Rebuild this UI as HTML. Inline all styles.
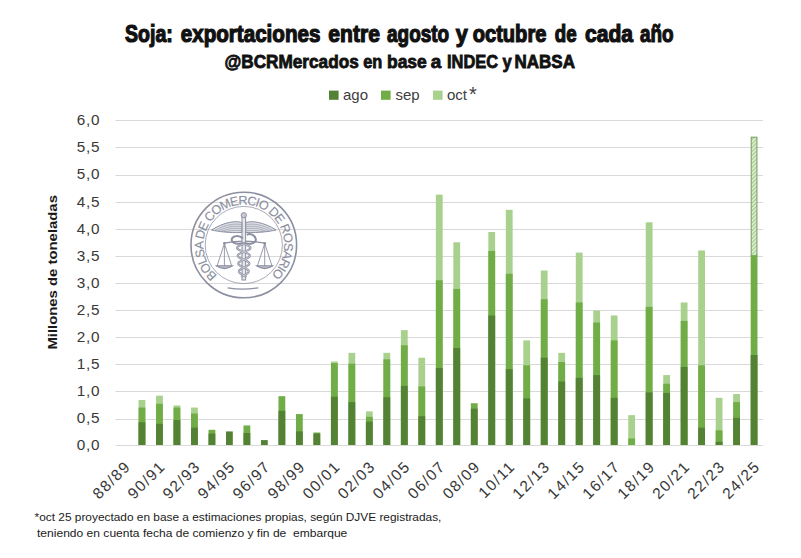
<!DOCTYPE html>
<html><head><meta charset="utf-8"><style>
html,body{margin:0;padding:0;background:#fff;}
body{width:801px;height:558px;overflow:hidden;position:relative;}
svg{position:absolute;left:0;top:0;}
text{font-family:"Liberation Sans",sans-serif;}
.yl{font-size:15.3px;letter-spacing:0.8px;fill:#383838;}
.xl{font-size:15.5px;letter-spacing:1.4px;fill:#383838;}
.leg{font-size:15px;fill:#404040;}
.ttl{font-size:23px;font-weight:bold;fill:#111;stroke:#111;stroke-width:1.2px;}
.sub{font-size:17.6px;font-weight:bold;fill:#111;stroke:#111;stroke-width:0.8px;}
.yt{font-size:13.3px;font-weight:bold;fill:#1a1a1a;}
.fn{font-size:10.6px;fill:#1a1a1a;}
</style></head><body>
<svg width="801" height="558" viewBox="0 0 801 558">
<defs>
<pattern id="hatch" patternUnits="userSpaceOnUse" width="2.8" height="2.8" patternTransform="rotate(45)">
<rect width="2.8" height="2.8" fill="#d8f0ca"/>
<rect width="1.0" height="2.8" fill="#a3c68e"/>
</pattern>
</defs>
<text class="ttl" x="125.10" y="41.9" textLength="47.70" lengthAdjust="spacingAndGlyphs">Soja:</text><text class="ttl" x="180.80" y="41.9" textLength="139.60" lengthAdjust="spacingAndGlyphs">exportaciones</text><text class="ttl" x="328.35" y="41.9" textLength="51.55" lengthAdjust="spacingAndGlyphs">entre</text><text class="ttl" x="387.10" y="41.9" textLength="62.05" lengthAdjust="spacingAndGlyphs">agosto</text><text class="ttl" x="455.85" y="41.9" textLength="12.05" lengthAdjust="spacingAndGlyphs">y</text><text class="ttl" x="472.70" y="41.9" textLength="73.70" lengthAdjust="spacingAndGlyphs">octubre</text><text class="ttl" x="554.80" y="41.9" textLength="21.80" lengthAdjust="spacingAndGlyphs">de</text><text class="ttl" x="585.00" y="41.9" textLength="48.00" lengthAdjust="spacingAndGlyphs">cada</text><text class="ttl" x="640.00" y="41.9" textLength="33.60" lengthAdjust="spacingAndGlyphs">año</text>
<text class="sub" x="224.50" y="68.4" textLength="134.20" lengthAdjust="spacingAndGlyphs">@BCRMercados</text><text class="sub" x="363.30" y="68.4" textLength="19.00" lengthAdjust="spacingAndGlyphs">en</text><text class="sub" x="387.00" y="68.4" textLength="39.70" lengthAdjust="spacingAndGlyphs">base</text><text class="sub" x="430.70" y="68.4" textLength="10.50" lengthAdjust="spacingAndGlyphs">a</text><text class="sub" x="447.00" y="68.4" textLength="51.00" lengthAdjust="spacingAndGlyphs">INDEC</text><text class="sub" x="502.50" y="68.4" textLength="9.20" lengthAdjust="spacingAndGlyphs">y</text><text class="sub" x="514.50" y="68.4" textLength="60.50" lengthAdjust="spacingAndGlyphs">NABSA</text>
<rect x="329" y="90.6" width="9.6" height="9.2" fill="#548235"/>
<text class="leg" x="343" y="100">ago</text>
<rect x="381" y="90.6" width="9.6" height="9.2" fill="#70ad47"/>
<text class="leg" x="395.5" y="100">sep</text>
<rect x="433" y="90.6" width="9.6" height="9.2" fill="#a9d18e"/>
<text class="leg" x="447" y="100">oct<tspan dx="2" font-size="20" dy="0.8">*</tspan></text>
<rect x="115.5" y="445" width="647.5" height="1" fill="#d9d9d9"/><rect x="115.5" y="419" width="647.5" height="1" fill="#d9d9d9"/><rect x="115.5" y="391" width="647.5" height="1" fill="#d9d9d9"/><rect x="115.5" y="364" width="647.5" height="1" fill="#d9d9d9"/><rect x="115.5" y="337" width="647.5" height="1" fill="#d9d9d9"/><rect x="115.5" y="310" width="647.5" height="1" fill="#d9d9d9"/><rect x="115.5" y="283" width="647.5" height="1" fill="#d9d9d9"/><rect x="115.5" y="256" width="647.5" height="1" fill="#d9d9d9"/><rect x="115.5" y="229" width="647.5" height="1" fill="#d9d9d9"/><rect x="115.5" y="202" width="647.5" height="1" fill="#d9d9d9"/><rect x="115.5" y="175" width="647.5" height="1" fill="#d9d9d9"/><rect x="115.5" y="147" width="647.5" height="1" fill="#d9d9d9"/><rect x="115.5" y="120" width="647.5" height="1" fill="#d9d9d9"/><text x="100.3" y="450.3" class="yl" text-anchor="end">0,0</text><text x="100.3" y="423.2" class="yl" text-anchor="end">0,5</text><text x="100.3" y="396.1" class="yl" text-anchor="end">1,0</text><text x="100.3" y="369.0" class="yl" text-anchor="end">1,5</text><text x="100.3" y="341.9" class="yl" text-anchor="end">2,0</text><text x="100.3" y="314.9" class="yl" text-anchor="end">2,5</text><text x="100.3" y="287.8" class="yl" text-anchor="end">3,0</text><text x="100.3" y="260.7" class="yl" text-anchor="end">3,5</text><text x="100.3" y="233.6" class="yl" text-anchor="end">4,0</text><text x="100.3" y="206.5" class="yl" text-anchor="end">4,5</text><text x="100.3" y="179.4" class="yl" text-anchor="end">5,0</text><text x="100.3" y="152.3" class="yl" text-anchor="end">5,5</text><text x="100.3" y="125.2" class="yl" text-anchor="end">6,0</text>
<g>
<circle cx="243.8" cy="245.0" r="52.8" fill="none" stroke="#8c8fa0" stroke-width="1.6"/>
<circle cx="243.8" cy="245.0" r="38.6" fill="none" stroke="#8c8fa0" stroke-width="1.0" opacity="0.75"/>
<path id="arcT" d="M217.30,275.49 A40.4,40.4 0 1 1 271.35,274.55" fill="none"/>
<text font-family="Liberation Sans" font-size="12.6" fill="#8c8fa0" stroke="#8c8fa0" stroke-width="0.15"><textPath href="#arcT" textLength="194.6" lengthAdjust="spacing">BOLSA DE COMERCIO DE ROSARIO</textPath></text>
<path d="M227.6,287.8 Q243,290.5 258.4,287.8" fill="none" stroke="#8c8fa0" stroke-width="1.3"/>
<path d="M224.4,243.2 Q244,239 264.7,243.2" stroke="#8c8fa0" stroke-width="1.3" fill="none"/>
<path d="M224.4,243.5 L216.9,266.5 M224.4,243.5 L231.9,266.5 M224.4,243.5 L224.4,266" stroke="#8c8fa0" stroke-width="0.9" fill="none"/>
<path d="M216.4,265.8 Q224.4,271.5 232.4,265.8 Z" fill="#b9bcc8" stroke="#8c8fa0" stroke-width="1.1"/>
<circle cx="224.4" cy="243.3" r="1.4" fill="#8c8fa0"/>
<path d="M264.7,243.5 L257.2,266.5 M264.7,243.5 L272.2,266.5 M264.7,243.5 L264.7,266" stroke="#8c8fa0" stroke-width="0.9" fill="none"/>
<path d="M256.7,265.8 Q264.7,271.5 272.7,265.8 Z" fill="#b9bcc8" stroke="#8c8fa0" stroke-width="1.1"/>
<circle cx="264.7" cy="243.3" r="1.4" fill="#8c8fa0"/>
<rect x="242.0" y="216" width="3.6" height="64" fill="#e6e7ec" stroke="#8c8fa0" stroke-width="1"/>
<circle cx="243.8" cy="215.2" r="2.6" fill="#c9cbd4" stroke="#8c8fa0" stroke-width="1"/>
<path d="M241.8,222.5 C236,220.5 224,222 211.5,230 C219,231.5 228,233 241.8,232.5 Z" fill="#dcdee5" stroke="#8c8fa0" stroke-width="1"/>
<path d="M241.3,224.5 C234,223.3 224.0,225.0 215,230.5" fill="none" stroke="#8c8fa0" stroke-width="0.6"/>
<path d="M241.3,226.6 C234,225.4 225.5,227.1 218,230.9" fill="none" stroke="#8c8fa0" stroke-width="0.6"/>
<path d="M241.3,228.7 C234,227.5 227.0,229.2 221,231.3" fill="none" stroke="#8c8fa0" stroke-width="0.6"/>
<path d="M241.3,230.8 C234,229.60000000000002 228.5,231.3 224,231.7" fill="none" stroke="#8c8fa0" stroke-width="0.6"/>
<path d="M241.8,222.5 C236,220.5 224,222 211.5,230 C219,231.5 228,233 241.8,232.5 Z" fill="#dcdee5" stroke="#8c8fa0" stroke-width="1" transform="translate(487.6,0) scale(-1,1)"/>
<path d="M241.3,224.5 C234,223.3 224.0,225.0 215,230.5" fill="none" stroke="#8c8fa0" stroke-width="0.6" transform="translate(487.6,0) scale(-1,1)"/>
<path d="M241.3,226.6 C234,225.4 225.5,227.1 218,230.9" fill="none" stroke="#8c8fa0" stroke-width="0.6" transform="translate(487.6,0) scale(-1,1)"/>
<path d="M241.3,228.7 C234,227.5 227.0,229.2 221,231.3" fill="none" stroke="#8c8fa0" stroke-width="0.6" transform="translate(487.6,0) scale(-1,1)"/>
<path d="M241.3,230.8 C234,229.60000000000002 228.5,231.3 224,231.7" fill="none" stroke="#8c8fa0" stroke-width="0.6" transform="translate(487.6,0) scale(-1,1)"/>
<path d="M243.8,243 C237.8,245 230.8,243 231.8,239 C232.8,235.5 239.8,235 242.8,238.5" fill="none" stroke="#8c8fa0" stroke-width="2"/>
<path d="M243.8,243 C249.8,245 256.8,243 255.8,239 C254.8,234.5 249.8,233 246.8,235" fill="none" stroke="#8c8fa0" stroke-width="2"/>
<path d="M243.80,244.00 L245.32,244.55 L246.75,245.10 L248.02,245.65 L249.07,246.20 L249.86,246.75 L250.34,247.30 L250.51,247.85 L250.36,248.40 L249.89,248.95 L249.13,249.50 L248.13,250.05 L246.94,250.60 L245.60,251.15 L244.20,251.70 L242.80,252.25 L241.46,252.80 L240.26,253.35 L239.23,253.90 L238.44,254.45 L237.92,255.00 L237.68,255.55 L237.75,256.10 L238.10,256.65 L238.72,257.20 L239.57,257.75 L240.62,258.30 L241.80,258.85 L243.07,259.40 L244.35,259.95 L245.58,260.50 L246.72,261.05 L247.70,261.60 L248.48,262.15 L249.02,262.70 L249.30,263.25 L249.32,263.80 L249.07,264.35 L248.57,264.90 L247.86,265.45 L246.95,266.00 L245.92,266.55 L244.79,267.10 L243.64,267.65 L242.51,268.20 L241.46,268.75 L240.54,269.30 L239.79,269.85 L239.24,270.40 L238.92,270.95 L238.84,271.50 L239.00,272.05 L239.39,272.60 L239.98,273.15 L240.74,273.70 L241.64,274.25 L242.63,274.80 L243.65,275.35 L244.67,275.90 L245.62,276.45 L246.47,277.00" fill="none" stroke="#8c8fa0" stroke-width="2.1"/>
<path d="M243.80,244.00 L242.28,244.55 L240.85,245.10 L239.58,245.65 L238.53,246.20 L237.74,246.75 L237.26,247.30 L237.09,247.85 L237.24,248.40 L237.71,248.95 L238.47,249.50 L239.47,250.05 L240.66,250.60 L242.00,251.15 L243.40,251.70 L244.80,252.25 L246.14,252.80 L247.34,253.35 L248.37,253.90 L249.16,254.45 L249.68,255.00 L249.92,255.55 L249.85,256.10 L249.50,256.65 L248.88,257.20 L248.03,257.75 L246.98,258.30 L245.80,258.85 L244.53,259.40 L243.25,259.95 L242.02,260.50 L240.88,261.05 L239.90,261.60 L239.12,262.15 L238.58,262.70 L238.30,263.25 L238.28,263.80 L238.53,264.35 L239.03,264.90 L239.74,265.45 L240.65,266.00 L241.68,266.55 L242.81,267.10 L243.96,267.65 L245.09,268.20 L246.14,268.75 L247.06,269.30 L247.81,269.85 L248.36,270.40 L248.68,270.95 L248.76,271.50 L248.60,272.05 L248.21,272.60 L247.62,273.15 L246.86,273.70 L245.96,274.25 L244.97,274.80 L243.95,275.35 L242.93,275.90 L241.98,276.45 L241.13,277.00" fill="none" stroke="#8c8fa0" stroke-width="2.1"/>
<path d="M243.80,244.00 L245.32,244.55 L246.75,245.10 L248.02,245.65 L249.07,246.20 L249.86,246.75 L250.34,247.30 L250.51,247.85 L250.36,248.40 L249.89,248.95 L249.13,249.50 L248.13,250.05 L246.94,250.60 L245.60,251.15 L244.20,251.70 L242.80,252.25 L241.46,252.80 L240.26,253.35 L239.23,253.90 L238.44,254.45 L237.92,255.00 L237.68,255.55 L237.75,256.10 L238.10,256.65 L238.72,257.20 L239.57,257.75 L240.62,258.30 L241.80,258.85 L243.07,259.40 L244.35,259.95 L245.58,260.50 L246.72,261.05 L247.70,261.60 L248.48,262.15 L249.02,262.70 L249.30,263.25 L249.32,263.80 L249.07,264.35 L248.57,264.90 L247.86,265.45 L246.95,266.00 L245.92,266.55 L244.79,267.10 L243.64,267.65 L242.51,268.20 L241.46,268.75 L240.54,269.30 L239.79,269.85 L239.24,270.40 L238.92,270.95 L238.84,271.50 L239.00,272.05 L239.39,272.60 L239.98,273.15 L240.74,273.70 L241.64,274.25 L242.63,274.80 L243.65,275.35 L244.67,275.90 L245.62,276.45 L246.47,277.00" fill="none" stroke="#d5d7de" stroke-width="0.8"/>
<path d="M243.80,244.00 L242.28,244.55 L240.85,245.10 L239.58,245.65 L238.53,246.20 L237.74,246.75 L237.26,247.30 L237.09,247.85 L237.24,248.40 L237.71,248.95 L238.47,249.50 L239.47,250.05 L240.66,250.60 L242.00,251.15 L243.40,251.70 L244.80,252.25 L246.14,252.80 L247.34,253.35 L248.37,253.90 L249.16,254.45 L249.68,255.00 L249.92,255.55 L249.85,256.10 L249.50,256.65 L248.88,257.20 L248.03,257.75 L246.98,258.30 L245.80,258.85 L244.53,259.40 L243.25,259.95 L242.02,260.50 L240.88,261.05 L239.90,261.60 L239.12,262.15 L238.58,262.70 L238.30,263.25 L238.28,263.80 L238.53,264.35 L239.03,264.90 L239.74,265.45 L240.65,266.00 L241.68,266.55 L242.81,267.10 L243.96,267.65 L245.09,268.20 L246.14,268.75 L247.06,269.30 L247.81,269.85 L248.36,270.40 L248.68,270.95 L248.76,271.50 L248.60,272.05 L248.21,272.60 L247.62,273.15 L246.86,273.70 L245.96,274.25 L244.97,274.80 L243.95,275.35 L242.93,275.90 L241.98,276.45 L241.13,277.00" fill="none" stroke="#d5d7de" stroke-width="0.8"/>
</g>
<rect x="138.56" y="399.99" width="6.8" height="45.01" fill="#a9d18e"/><rect x="138.56" y="407.57" width="6.8" height="37.43" fill="#70ad47"/><rect x="138.56" y="422.20" width="6.8" height="22.80" fill="#548235"/><rect x="156.05" y="395.65" width="6.8" height="49.35" fill="#a9d18e"/><rect x="156.05" y="403.78" width="6.8" height="41.22" fill="#70ad47"/><rect x="156.05" y="423.83" width="6.8" height="21.17" fill="#548235"/><rect x="173.54" y="405.41" width="6.8" height="39.59" fill="#a9d18e"/><rect x="173.54" y="407.57" width="6.8" height="37.43" fill="#70ad47"/><rect x="173.54" y="420.04" width="6.8" height="24.96" fill="#548235"/><rect x="191.03" y="407.57" width="6.8" height="37.43" fill="#a9d18e"/><rect x="191.03" y="413.53" width="6.8" height="31.47" fill="#70ad47"/><rect x="191.03" y="427.62" width="6.8" height="17.38" fill="#548235"/><rect x="208.52" y="429.79" width="6.8" height="15.21" fill="#70ad47"/><rect x="208.52" y="433.58" width="6.8" height="11.42" fill="#548235"/><rect x="226.01" y="431.41" width="6.8" height="13.59" fill="#548235"/><rect x="243.49" y="425.45" width="6.8" height="19.55" fill="#70ad47"/><rect x="243.49" y="433.04" width="6.8" height="11.96" fill="#548235"/><rect x="260.98" y="440.08" width="6.8" height="4.92" fill="#548235"/><rect x="278.47" y="396.20" width="6.8" height="48.80" fill="#70ad47"/><rect x="278.47" y="410.82" width="6.8" height="34.18" fill="#548235"/><rect x="295.96" y="414.08" width="6.8" height="30.92" fill="#70ad47"/><rect x="295.96" y="431.41" width="6.8" height="13.59" fill="#548235"/><rect x="313.45" y="432.50" width="6.8" height="12.50" fill="#70ad47"/><rect x="313.45" y="433.58" width="6.8" height="11.42" fill="#548235"/><rect x="330.94" y="361.52" width="6.8" height="83.48" fill="#a9d18e"/><rect x="330.94" y="363.15" width="6.8" height="81.85" fill="#70ad47"/><rect x="330.94" y="396.74" width="6.8" height="48.26" fill="#548235"/><rect x="348.43" y="352.85" width="6.8" height="92.15" fill="#a9d18e"/><rect x="348.43" y="363.69" width="6.8" height="81.31" fill="#70ad47"/><rect x="348.43" y="402.16" width="6.8" height="42.84" fill="#548235"/><rect x="365.92" y="411.37" width="6.8" height="33.63" fill="#a9d18e"/><rect x="365.92" y="416.78" width="6.8" height="28.22" fill="#70ad47"/><rect x="365.92" y="421.66" width="6.8" height="23.34" fill="#548235"/><rect x="383.41" y="352.85" width="6.8" height="92.15" fill="#a9d18e"/><rect x="383.41" y="359.35" width="6.8" height="85.65" fill="#70ad47"/><rect x="383.41" y="397.28" width="6.8" height="47.72" fill="#548235"/><rect x="400.90" y="330.10" width="6.8" height="114.90" fill="#a9d18e"/><rect x="400.90" y="345.27" width="6.8" height="99.73" fill="#70ad47"/><rect x="400.90" y="385.90" width="6.8" height="59.10" fill="#548235"/><rect x="418.38" y="357.73" width="6.8" height="87.27" fill="#a9d18e"/><rect x="418.38" y="386.44" width="6.8" height="58.56" fill="#70ad47"/><rect x="418.38" y="416.24" width="6.8" height="28.76" fill="#548235"/><rect x="435.87" y="194.65" width="6.8" height="250.35" fill="#a9d18e"/><rect x="435.87" y="280.25" width="6.8" height="164.75" fill="#70ad47"/><rect x="435.87" y="368.02" width="6.8" height="76.98" fill="#548235"/><rect x="453.36" y="242.32" width="6.8" height="202.68" fill="#a9d18e"/><rect x="453.36" y="288.92" width="6.8" height="156.08" fill="#70ad47"/><rect x="453.36" y="347.98" width="6.8" height="97.02" fill="#548235"/><rect x="470.85" y="403.24" width="6.8" height="41.76" fill="#70ad47"/><rect x="470.85" y="408.66" width="6.8" height="36.34" fill="#548235"/><rect x="488.34" y="232.03" width="6.8" height="212.97" fill="#a9d18e"/><rect x="488.34" y="250.99" width="6.8" height="194.01" fill="#70ad47"/><rect x="488.34" y="315.47" width="6.8" height="129.53" fill="#548235"/><rect x="505.83" y="209.82" width="6.8" height="235.18" fill="#a9d18e"/><rect x="505.83" y="273.75" width="6.8" height="171.25" fill="#70ad47"/><rect x="505.83" y="369.11" width="6.8" height="75.89" fill="#548235"/><rect x="523.32" y="340.39" width="6.8" height="104.61" fill="#a9d18e"/><rect x="523.32" y="365.31" width="6.8" height="79.69" fill="#70ad47"/><rect x="523.32" y="398.36" width="6.8" height="46.64" fill="#548235"/><rect x="540.81" y="270.50" width="6.8" height="174.50" fill="#a9d18e"/><rect x="540.81" y="299.21" width="6.8" height="145.79" fill="#70ad47"/><rect x="540.81" y="357.73" width="6.8" height="87.27" fill="#548235"/><rect x="558.30" y="352.85" width="6.8" height="92.15" fill="#a9d18e"/><rect x="558.30" y="362.06" width="6.8" height="82.94" fill="#70ad47"/><rect x="558.30" y="381.57" width="6.8" height="63.43" fill="#548235"/><rect x="575.79" y="252.62" width="6.8" height="192.38" fill="#a9d18e"/><rect x="575.79" y="302.46" width="6.8" height="142.54" fill="#70ad47"/><rect x="575.79" y="377.77" width="6.8" height="67.23" fill="#548235"/><rect x="593.27" y="310.59" width="6.8" height="134.41" fill="#a9d18e"/><rect x="593.27" y="322.51" width="6.8" height="122.49" fill="#70ad47"/><rect x="593.27" y="375.07" width="6.8" height="69.93" fill="#548235"/><rect x="610.76" y="315.47" width="6.8" height="129.53" fill="#a9d18e"/><rect x="610.76" y="340.39" width="6.8" height="104.61" fill="#70ad47"/><rect x="610.76" y="397.82" width="6.8" height="47.18" fill="#548235"/><rect x="628.25" y="415.16" width="6.8" height="29.84" fill="#a9d18e"/><rect x="628.25" y="438.46" width="6.8" height="6.54" fill="#70ad47"/><rect x="645.74" y="222.28" width="6.8" height="222.72" fill="#a9d18e"/><rect x="645.74" y="306.80" width="6.8" height="138.20" fill="#70ad47"/><rect x="645.74" y="392.40" width="6.8" height="52.60" fill="#548235"/><rect x="663.23" y="375.07" width="6.8" height="69.93" fill="#a9d18e"/><rect x="663.23" y="383.73" width="6.8" height="61.27" fill="#70ad47"/><rect x="663.23" y="392.95" width="6.8" height="52.05" fill="#548235"/><rect x="680.72" y="302.46" width="6.8" height="142.54" fill="#a9d18e"/><rect x="680.72" y="320.89" width="6.8" height="124.11" fill="#70ad47"/><rect x="680.72" y="366.94" width="6.8" height="78.06" fill="#548235"/><rect x="698.21" y="250.45" width="6.8" height="194.55" fill="#a9d18e"/><rect x="698.21" y="365.31" width="6.8" height="79.69" fill="#70ad47"/><rect x="698.21" y="427.62" width="6.8" height="17.38" fill="#548235"/><rect x="715.70" y="397.82" width="6.8" height="47.18" fill="#a9d18e"/><rect x="715.70" y="430.33" width="6.8" height="14.67" fill="#70ad47"/><rect x="715.70" y="441.71" width="6.8" height="3.29" fill="#548235"/><rect x="733.19" y="394.03" width="6.8" height="50.97" fill="#a9d18e"/><rect x="733.19" y="402.16" width="6.8" height="42.84" fill="#70ad47"/><rect x="733.19" y="417.87" width="6.8" height="27.13" fill="#548235"/><rect x="751.23" y="137.22" width="5.70" height="118.65" fill="url(#hatch)" stroke="#7f9e6b" stroke-width="1.1"/><rect x="750.68" y="255.33" width="6.8" height="189.67" fill="#70ad47"/><rect x="750.68" y="355.02" width="6.8" height="89.98" fill="#548235"/>
<text class="xl" text-anchor="end" transform="translate(131.5,467.5) rotate(-45)">88/89</text><text class="xl" text-anchor="end" transform="translate(166.4,467.5) rotate(-45)">90/91</text><text class="xl" text-anchor="end" transform="translate(201.4,467.5) rotate(-45)">92/93</text><text class="xl" text-anchor="end" transform="translate(236.4,467.5) rotate(-45)">94/95</text><text class="xl" text-anchor="end" transform="translate(271.4,467.5) rotate(-45)">96/97</text><text class="xl" text-anchor="end" transform="translate(306.4,467.5) rotate(-45)">98/99</text><text class="xl" text-anchor="end" transform="translate(341.3,467.5) rotate(-45)">00/01</text><text class="xl" text-anchor="end" transform="translate(376.3,467.5) rotate(-45)">02/03</text><text class="xl" text-anchor="end" transform="translate(411.3,467.5) rotate(-45)">04/05</text><text class="xl" text-anchor="end" transform="translate(446.3,467.5) rotate(-45)">06/07</text><text class="xl" text-anchor="end" transform="translate(481.3,467.5) rotate(-45)">08/09</text><text class="xl" text-anchor="end" transform="translate(516.2,467.5) rotate(-45)">10/11</text><text class="xl" text-anchor="end" transform="translate(551.2,467.5) rotate(-45)">12/13</text><text class="xl" text-anchor="end" transform="translate(586.2,467.5) rotate(-45)">14/15</text><text class="xl" text-anchor="end" transform="translate(621.2,467.5) rotate(-45)">16/17</text><text class="xl" text-anchor="end" transform="translate(656.1,467.5) rotate(-45)">18/19</text><text class="xl" text-anchor="end" transform="translate(691.1,467.5) rotate(-45)">20/21</text><text class="xl" text-anchor="end" transform="translate(726.1,467.5) rotate(-45)">22/23</text><text class="xl" text-anchor="end" transform="translate(761.1,467.5) rotate(-45)">24/25</text>
<text class="yt" transform="translate(56.6,349.6) rotate(-90)" textLength="154.5" lengthAdjust="spacingAndGlyphs">Millones de toneladas</text>
<text class="fn" x="34.6" y="521.3" textLength="406.8" lengthAdjust="spacingAndGlyphs">*oct 25 proyectado en base a estimaciones propias, según DJVE registradas,</text>
<text class="fn" x="37.0" y="537.4" textLength="310.3" lengthAdjust="spacingAndGlyphs">teniendo en cuenta fecha de comienzo y fin de&#160; embarque</text>
</svg>
</body></html>
